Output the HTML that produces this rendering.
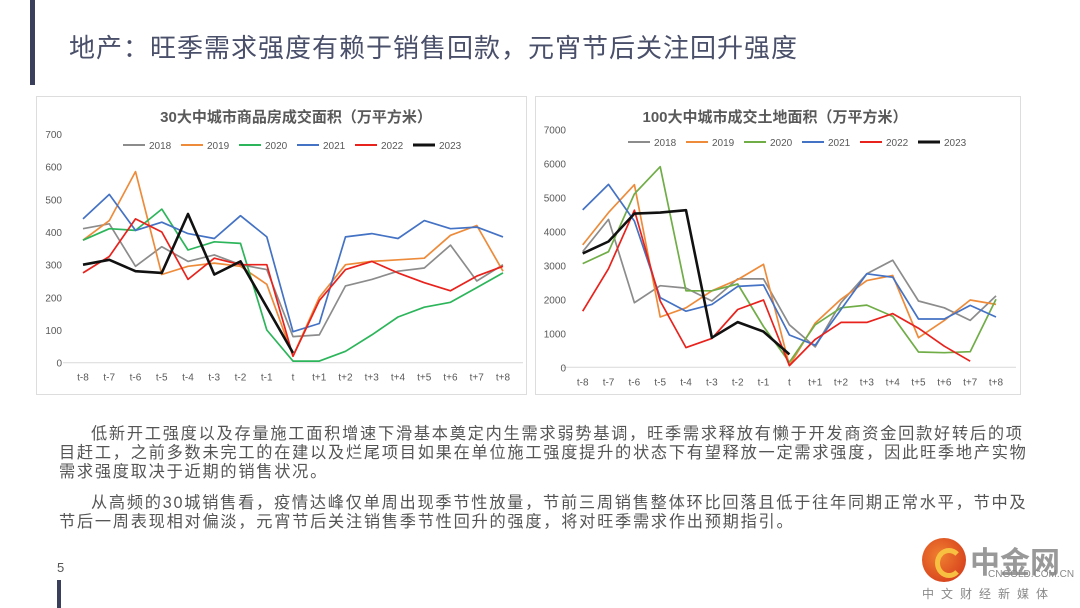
<!DOCTYPE html>
<html><head><meta charset="utf-8"><style>
body{margin:0;width:1080px;height:608px;background:#fff;position:relative;overflow:hidden;font-family:"Liberation Sans","Noto Sans CJK SC",sans-serif}
.abs{position:absolute}
.para{position:absolute;left:59px;font-size:16.2px;color:#555;white-space:nowrap;line-height:19px;letter-spacing:1.75px}
</style></head><body>
<div class="abs" style="left:30px;top:0;width:5px;height:85px;background:#3a3f5c"></div>
<div class="abs" style="left:69px;top:28px;font-size:26px;letter-spacing:1px;color:#4a4f6a;white-space:nowrap">地产：旺季需求强度有赖于销售回款，元宵节后关注回升强度</div>
<svg class="abs" style="left:0;top:0" width="1080" height="400" id="charts">
<rect x="36.5" y="96.5" width="490" height="298" fill="#fff" stroke="#ddd"/>
<rect x="535.5" y="96.5" width="485" height="298" fill="#fff" stroke="#ddd"/>
<text x="296" y="122" text-anchor="middle" font-size="15" font-weight="bold" fill="#595959">30大中城市商品房成交面积（万平方米）</text>
<text x="775" y="122" text-anchor="middle" font-size="15" font-weight="bold" fill="#595959">100大中城市成交土地面积（万平方米）</text>
</svg>
<div class="para" style="top:425px">
<div style="text-indent:32px">低新开工强度以及存量施工面积增速下滑基本奠定内生需求弱势基调，旺季需求释放有懒于开发商资金回款好转后的项</div>
<div>目赶工，之前多数未完工的在建以及烂尾项目如果在单位施工强度提升的状态下有望释放一定需求强度，因此旺季地产实物</div>
<div>需求强度取决于近期的销售状况。</div>
</div>
<div class="para" style="top:494px">
<div style="text-indent:32px">从高频的30城销售看，疫情达峰仅单周出现季节性放量，节前三周销售整体环比回落且低于往年同期正常水平，节中及</div>
<div>节后一周表现相对偏淡，元宵节后关注销售季节性回升的强度，将对旺季需求作出预期指引。</div>
</div>
<div class="abs" style="left:57px;top:560px;font-size:13px;color:#555">5</div>
<div class="abs" style="left:57px;top:580px;width:4px;height:28px;background:#3a3f5c"></div>
<div class="abs" style="left:922px;top:538px;width:150px;height:68px">
<div style="position:absolute;left:0;top:0;width:44px;height:44px;border-radius:50%;background:radial-gradient(circle at 40% 40%,#f08030,#d03018)"></div>
<div style="position:absolute;left:13px;top:10px;width:18px;height:20px;border-radius:50%;border:5px solid #f8c040;border-right-color:transparent"></div>
<div style="position:absolute;left:48px;top:0;font-size:30px;font-weight:bold;color:#999">中金网</div>
<div style="position:absolute;left:66px;top:31px;font-size:10px;color:#888">CNGOLD.COM.CN</div>
<div style="position:absolute;left:0;top:47px;font-size:12px;color:#888;letter-spacing:7px">中文财经新媒体</div>
</div>
<script>
const weeks=["t-8","t-7","t-6","t-5","t-4","t-3","t-2","t-1","t","t+1","t+2","t+3","t+4","t+5","t+6","t+7","t+8"];
const years=["2018","2019","2020","2021","2022","2023"];
const colors=["#8c8c8c","#ed8b3a","#2cb55a","#4472c4","#e8221c","#111"];
const colors2=["#8c8c8c","#ed8b3a","#70ad47","#4472c4","#e8221c","#111"];
const ticks1=[0,100,200,300,400,500,600,700];
const ticks2=[0,1000,2000,3000,4000,5000,6000,7000];
const s1_2018=[410,425,295,355,310,330,300,285,80,85,235,255,280,290,360,250,300];
const s1_2019=[375,435,585,270,295,305,295,240,20,200,300,310,315,320,390,420,280];
const s1_2020=[375,410,405,470,345,370,365,100,5,5,35,85,140,170,185,230,275];
const s1_2021=[440,515,405,430,395,380,450,385,95,120,385,395,380,435,410,415,385];
const s1_2022=[275,325,440,400,255,320,300,300,20,190,285,310,275,245,220,265,295];
const s1_2023=[300,315,280,275,455,270,310,170,30];
const s2_2018=[3400,4350,1900,2400,2330,1950,2600,2600,1250,600,1900,2750,3150,1950,1750,1380,2100];
const s2_2019=[3600,4550,5370,1480,1750,2250,2580,3030,50,1300,2000,2550,2700,870,1380,1980,1850];
const s2_2020=[3050,3400,5100,5900,2250,2250,2450,1200,150,1250,1750,1830,1500,450,430,460,2000];
const s2_2021=[4630,5380,4300,2050,1650,1850,2380,2420,950,650,1700,2750,2650,1420,1420,1820,1480];
const s2_2022=[1650,2900,4620,1950,580,850,1700,1980,50,820,1320,1320,1580,1150,620,180];
const s2_2023=[3350,3700,4520,4550,4620,870,1330,1050,380];
const svg=document.getElementById('charts');
const NS='http://www.w3.org/2000/svg';
function mk(tag,attrs,parent){const e=document.createElementNS(NS,tag);for(const k in attrs)e.setAttribute(k,attrs[k]);(parent||svg).appendChild(e);return e;}
function draw(cfg){
  const {x0,x1,y0,y1,max,ticks,series,cols,yLabX,legX,legY,id}=cfg;
  const xs=i=>x0+(x1-x0)*i/(weeks.length-1);
  const ys=v=>y0-(y0-y1)*v/max;
  const ax=mk('line',{x1:x0-20,x2:x1+20,y1:y0,y2:y0,stroke:'#d9d9d9'});
  
  
  ticks.forEach(t=>{const e=mk('text',{x:yLabX,y:ys(t)+4,'font-size':10,fill:'#595959','text-anchor':'end'});e.textContent=t;
    
    });
  weeks.forEach((w,i)=>{const e=mk('text',{x:xs(i),y:y0+18,'font-size':10,fill:'#595959','text-anchor':'middle'});e.textContent=w;
    
    });
  years.forEach((y,k)=>{
    const lx=legX+k*58;
    const l=mk('line',{x1:lx,x2:lx+22,y1:legY,y2:legY,stroke:cols[k],'stroke-width':k==5?3:2});
    
    
    const t=mk('text',{x:lx+26,y:legY+4,'font-size':10,fill:'#595959'});t.textContent=y;
    
    
    const d=series[k].map((v,i)=>xs(i).toFixed(1)+','+ys(v).toFixed(1)).join(' ');
    const p=mk('polyline',{points:d,fill:'none',stroke:cols[k],'stroke-width':k==5?2.6:1.7,'stroke-linejoin':'round'});
    
    
  });
}
draw({id:'chart1',x0:83,x1:503,y0:362.7,y1:134,max:700,ticks:ticks1,series:[s1_2018,s1_2019,s1_2020,s1_2021,s1_2022,s1_2023],cols:colors,yLabX:62,legX:123,legY:145});
draw({id:'chart2',x0:582.7,x1:996,y0:367.3,y1:129.3,max:7000,ticks:ticks2,series:[s2_2018,s2_2019,s2_2020,s2_2021,s2_2022,s2_2023],cols:colors2,yLabX:566,legX:628,legY:142});
</script>
</body></html>
